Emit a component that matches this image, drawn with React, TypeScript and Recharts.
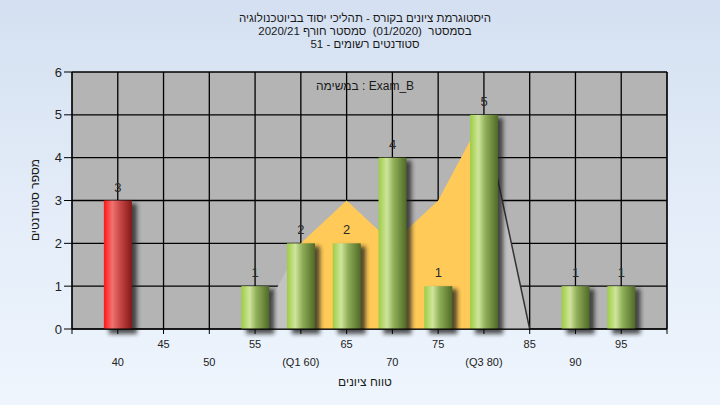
import React from "react";
import {
  ComposedChart,
  Bar,
  Area,
  XAxis,
  YAxis,
  CartesianGrid,
  LabelList,
} from "recharts";

// grade buckets and student counts
const GRADES = [40, 45, 50, 55, 60, 65, 70, 75, 80, 85, 90, 95];
const COUNTS = [3, 0, 0, 1, 2, 2, 4, 1, 5, 0, 1, 1];

// distribution shape behind the bars (split at Q1 / Q3)
const BELOW_Q1 = [null, null, null, 0, 2, null, null, null, null, null, null, null];
const INTERQUARTILE = [null, null, null, null, 2, 3, 2, 3, 5, null, null, null];
const ABOVE_Q3 = [null, null, null, null, null, null, null, null, 5, 0, null, null];

const X_TICKS = [35, 40, 45, 50, 55, 60, 65, 70, 75, 80, 85, 90, 95, 100];
const X_TICK_LABELS = ["", "40", "45", "50", "55", "(Q1 60)", "65", "70", "75", "(Q3 80)", "85", "90", "95", ""];
const Y_TICKS = [0, 1, 2, 3, 4, 5, 6];

const TITLE_LINES = [
  "היסטוגרמת ציונים בקורס - תהליכי יסוד בביוטכנולוגיה",
  "בסמסטר  (01/2020)  סמסטר חורף 2020/21",
  "סטודנטים רשומים - 51",
];
const SUBTITLE = "במשימה : Exam_B";
const X_TITLE = "טווח ציונים";
const Y_TITLE = "מספר סטודנטים";

const FONT = "'Liberation Sans', Arial, sans-serif";
const FAIL_BELOW = 55;

const data = GRADES.map((g, i) => ({
  grade: g,
  count: COUNTS[i],
  belowQ1: BELOW_Q1[i],
  iqr: INTERQUARTILE[i],
  aboveQ3: ABOVE_Q3[i],
}));

function CylinderBar(props: any) {
  const { x, y, width, height, payload } = props;
  if (!height || height <= 0) return null;
  const fill = payload.grade < FAIL_BELOW ? "url(#redCyl)" : "url(#greenCyl)";
  return (
    <g>
      <rect x={x + 5} y={y + 3} width={width} height={height + 2} fill="#1e1e1e" opacity={0.75} filter="url(#barShadow)" />
      <rect x={x} y={y} width={width} height={height} fill={fill} />
    </g>
  );
}

function ValueLabel(props: any) {
  const { x, y, width, value } = props;
  if (!value) return null;
  return (
    <text x={x + width / 2} y={y - 9} textAnchor="middle" fontSize={13} fontFamily={FONT} fill="#2a2a2a">
      {value}
    </text>
  );
}

function GradeTick(props: any) {
  const { x, payload } = props;
  const idx = X_TICKS.indexOf(payload.value);
  const label = X_TICK_LABELS[idx] ?? "";
  const lower = ((payload.value - 40) / 5) % 2 === 0;
  return (
    <text x={x} y={lower ? 366 : 348} textAnchor="middle" fontSize={11} fontFamily={FONT} fill="#222">
      {label}
    </text>
  );
}

export default function App() {
  const axisTick = { fontSize: 13, fontFamily: FONT, fill: "#222" };
  return (
    <div
      style={{
        position: "absolute",
        left: 0,
        top: 0,
        width: 720,
        height: 405,
        background: "linear-gradient(180deg, #d4e0f1 0%, #e3ecf8 50%, #eef5fd 100%)",
      }}
    >
      <svg width={0} height={0} style={{ position: "absolute" }}>
        <defs>
          <linearGradient id="greenCyl" x1="0" y1="0" x2="1" y2="0">
            <stop offset="0%" stopColor="#9dcd44" />
            <stop offset="30%" stopColor="#cfe59c" />
            <stop offset="55%" stopColor="#8fae58" />
            <stop offset="100%" stopColor="#4f6a26" />
          </linearGradient>
          <linearGradient id="redCyl" x1="0" y1="0" x2="1" y2="0">
            <stop offset="0%" stopColor="#ff1515" />
            <stop offset="30%" stopColor="#f27272" />
            <stop offset="60%" stopColor="#c44444" />
            <stop offset="100%" stopColor="#861818" />
          </linearGradient>
          <filter id="barShadow" x="-30%" y="-10%" width="160%" height="120%">
            <feGaussianBlur stdDeviation="2" />
          </filter>
        </defs>
      </svg>

      <ComposedChart width={720} height={405} data={data} margin={{ top: 72, right: 0, bottom: 0, left: 0 }}>
        <CartesianGrid yAxisId="left" stroke="#000" strokeWidth={1.3} fill="#b4b4b4" fillOpacity={1} />
        <XAxis
          dataKey="grade"
          type="number"
          domain={[35, 100]}
          ticks={X_TICKS}
          interval={0}
          height={76}
          tickSize={5}
          tick={<GradeTick />}
          axisLine={{ stroke: "#000" }}
          tickLine={{ stroke: "#000" }}
          allowDataOverflow
        />
        <YAxis
          yAxisId="left"
          domain={[0, 6]}
          ticks={Y_TICKS}
          width={72}
          tickSize={8}
          tickMargin={2}
          tick={axisTick}
          axisLine={{ stroke: "#000" }}
          tickLine={{ stroke: "#000" }}
        />
        <YAxis
          yAxisId="right"
          orientation="right"
          domain={[0, 6]}
          ticks={Y_TICKS}
          width={53}
          tickSize={8}
          tickMargin={2}
          tick={axisTick}
          axisLine={{ stroke: "#000" }}
          tickLine={{ stroke: "#000" }}
        />
        <Area
          yAxisId="left"
          type="linear"
          dataKey="belowQ1"
          fill="#c2c2c2"
          fillOpacity={1}
          stroke="none"
          connectNulls={false}
          isAnimationActive={false}
        />
        <Area
          yAxisId="left"
          type="linear"
          dataKey="iqr"
          fill="#ffca57"
          fillOpacity={1}
          stroke="none"
          connectNulls={false}
          isAnimationActive={false}
        />
        <Area
          yAxisId="left"
          type="linear"
          dataKey="aboveQ3"
          fill="#c2c2c2"
          fillOpacity={1}
          stroke="#333"
          strokeWidth={1.5}
          connectNulls={false}
          isAnimationActive={false}
        />
        <Bar yAxisId="left" dataKey="count" barSize={28} shape={<CylinderBar />} isAnimationActive={false}>
          <LabelList dataKey="count" content={<ValueLabel />} />
        </Bar>
      </ComposedChart>

      <svg width={720} height={405} style={{ position: "absolute", left: 0, top: 0, pointerEvents: "none" }}>
        {TITLE_LINES.map((line, i) => (
          <text
            key={i}
            x={365}
            y={22 + i * 13}
            textAnchor="middle"
            direction="rtl"
            fontSize={11.5}
            fontFamily={FONT}
            fill="#1a1a1a"
            style={{ whiteSpace: "pre" }}
          >
            {line}
          </text>
        ))}
        <text x={365} y={90} textAnchor="middle" fontSize={12} fontFamily={FONT} fill="#1a1a1a">
          {SUBTITLE}
        </text>
        <text x={365} y={386} textAnchor="middle" direction="rtl" fontSize={12} fontFamily={FONT} fill="#1a1a1a">
          {X_TITLE}
        </text>
        <text
          x={0}
          y={0}
          transform="translate(39 200) rotate(-90)"
          textAnchor="middle"
          direction="rtl"
          fontSize={12}
          fontFamily={FONT}
          fill="#1a1a1a"
        >
          {Y_TITLE}
        </text>
      </svg>
    </div>
  );
}
